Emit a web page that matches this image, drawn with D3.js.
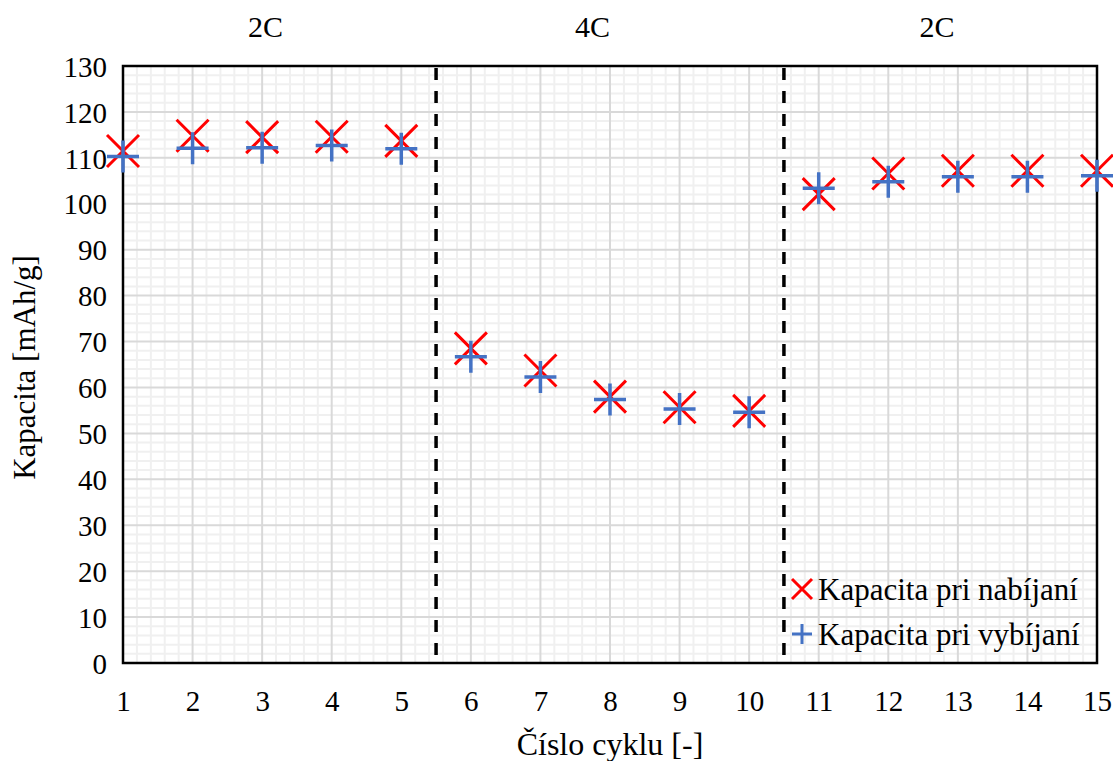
<!DOCTYPE html>
<html><head><meta charset="utf-8">
<script src="https://cdn.jsdelivr.net/npm/d3@7"></script>
<style>body{margin:0;background:#fff}svg{display:block}text{font-family:"Liberation Serif","Times New Roman",serif;fill:#000}</style>
</head><body>
<svg id="c" width="1113" height="761"></svg>
<script>
const cycles = [1,2,3,4,5,6,7,8,9,10,11,12,13,14,15];
const charge = [111.5,114.8,114.5,114.6,113.7,68.5,63.7,58.0,55.7,54.9,102.1,106.6,107.2,107.2,107.2];
const discharge = [110.3,112.1,112.2,112.7,112.0,66.7,62.3,57.4,55.3,54.6,103.4,104.8,105.9,105.9,106.1];
const yTicks = [0,10,20,30,40,50,60,70,80,90,100,110,120,130];
const phaseLabels = ["2C","4C","2C"];
const phaseCenters = [3.05,7.75,12.7];
const phaseBounds = [5.5,10.5];
const seriesNames = ["Kapacita pri nabíjaní","Kapacita pri vybíjaní"];

const svg = d3.select("#c");
const L=123,R=1097,T=66,B=663;
const x = d3.scaleLinear().domain([1,15]).range([L,R]);
const y = d3.scaleLinear().domain([0,130]).range([B,T]);
const g = svg.append("g");

// minor grid
const xMinor = d3.range(1,15.001,0.2).filter(v=>Math.abs(v-Math.round(v))>1e-6);
const yMinor = d3.range(0,130.001,2).filter(v=>v%10!==0);
g.selectAll(".xm").data(xMinor).join("line").attr("x1",d=>x(d)).attr("x2",d=>x(d)).attr("y1",T).attr("y2",B).attr("stroke","#f0f0f0").attr("stroke-width",2);
g.selectAll(".ym").data(yMinor).join("line").attr("y1",d=>y(d)).attr("y2",d=>y(d)).attr("x1",L).attr("x2",R).attr("stroke","#f0f0f0").attr("stroke-width",2);
// major grid
g.selectAll(".xM").data(cycles).join("line").attr("x1",d=>x(d)).attr("x2",d=>x(d)).attr("y1",T).attr("y2",B).attr("stroke","#d9d9d9").attr("stroke-width",2);
g.selectAll(".yM").data(yTicks).join("line").attr("y1",d=>y(d)).attr("y2",d=>y(d)).attr("x1",L).attr("x2",R).attr("stroke","#d9d9d9").attr("stroke-width",2);

// dashed boundaries
g.selectAll(".db").data(phaseBounds).join("line").attr("x1",d=>x(d)).attr("x2",d=>x(d)).attr("y1",T+2).attr("y2",B)
 .attr("stroke","#000").attr("stroke-width",3.5).attr("stroke-dasharray","12,11");

// frame
g.append("rect").attr("x",L).attr("y",T).attr("width",R-L).attr("height",B-T).attr("fill","none").attr("stroke","#000").attr("stroke-width",2.5);

// axes
const xAxis = d3.axisBottom(x).tickValues(cycles).tickSize(0).tickPadding(27).tickFormat(d3.format("d"));
const ax = svg.append("g").attr("transform",`translate(0,${B})`).call(xAxis);
ax.select(".domain").remove();
ax.selectAll("text").style("font-size","29px").style("font-family","Liberation Serif").attr("fill","#000");
const yAxis = d3.axisLeft(y).tickValues(yTicks).tickSize(0).tickPadding(16);
const ay = svg.append("g").attr("transform",`translate(${L},0)`).call(yAxis);
ay.select(".domain").remove();
ay.selectAll("text").style("font-size","29px").style("font-family","Liberation Serif").attr("fill","#000").attr("dy","0.35em");

// titles
svg.append("text").attr("x",610).attr("y",755).attr("text-anchor","middle").style("font-size","32px").text("Číslo cyklu [-]");
svg.append("text").attr("transform",`translate(35,${(T+B)/2+3}) rotate(-90)`).attr("text-anchor","middle").style("font-size","31px").text("Kapacita [mAh/g]");
svg.selectAll(".ph").data(phaseLabels).join("text").attr("x",(d,i)=>x(phaseCenters[i])).attr("y",37).attr("text-anchor","middle").style("font-size","30px").text(d=>d);

// markers
const s=16;
const mk = svg.append("g");
cycles.forEach((c,i)=>{
  const cx=x(c), cy=y(charge[i]);
  mk.append("path").attr("d",`M${cx-s},${cy-s}L${cx+s},${cy+s}M${cx-s},${cy+s}L${cx+s},${cy-s}`).attr("stroke","#ff0000").attr("stroke-width",3).attr("fill","none");
});
cycles.forEach((c,i)=>{
  const cx=x(c), cy=y(discharge[i]);
  mk.append("path").attr("d",`M${cx-s},${cy}L${cx+s},${cy}M${cx},${cy-s}L${cx},${cy+s}`).attr("stroke","#4472c4").attr("stroke-width",3.5).attr("fill","none");
});

// legend
const lg = svg.append("g");
const ls=10, lx=802;
const ly=[589,634];
lg.append("path").attr("d",`M${lx-ls},${ly[0]-ls}L${lx+ls},${ly[0]+ls}M${lx-ls},${ly[0]+ls}L${lx+ls},${ly[0]-ls}`).attr("stroke","#ff0000").attr("stroke-width",3);
lg.append("path").attr("d",`M${lx-ls},${ly[1]}L${lx+ls},${ly[1]}M${lx},${ly[1]-ls}L${lx},${ly[1]+ls}`).attr("stroke","#4472c4").attr("stroke-width",3);
lg.selectAll(".lt").data(seriesNames).join("text").attr("x",818).attr("y",(d,i)=>ly[i]).attr("dy","0.35em").style("font-size","31px").text(d=>d);
</script>
</body></html>
